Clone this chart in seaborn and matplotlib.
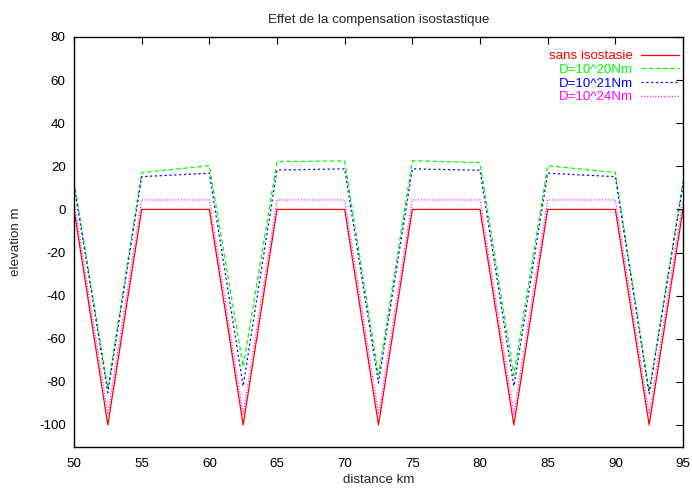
import numpy as np
import pandas as pd
import matplotlib
matplotlib.use('Agg')
import matplotlib.pyplot as plt
import seaborn as sns

# distance (km) and elevation (m)
distance = [50, 52.5, 55, 60, 62.5, 65, 70, 72.5, 75, 80, 82.5, 85, 90, 92.5, 95]
sans_isostasie = [0, -100, 0, 0, -100, 0, 0, -100, 0, 0, -100, 0, 0, -100, 0]
d_1e20 = [12.9, -83, 17.1, 20.3, -73, 22.2, 22.5, -77, 22.6, 21.7, -77, 20.3, 17.1, -84.5, 12.9]
d_1e21 = [11.4, -85, 15.2, 16.8, -82, 18.3, 18.8, -80.5, 18.8, 18.2, -82, 16.8, 15.2, -85.5, 11.4]
d_1e24 = [4.0, -95, 4.4, 4.4, -95, 4.4, 4.4, -95, 4.4, 4.4, -95, 4.4, 4.4, -95, 4.0]

labels = ['sans isostasie', 'D=10^20Nm', 'D=10^21Nm', 'D=10^24Nm']
colors = ['#ff0000', '#00ff00', '#0000ff', '#ff00ff']
styles = ['-', (0, (3.2, 2.0)), (0, (1.5, 2.0)), (0, (0.7, 1.3))]

x_ticks = np.arange(50, 96, 5)
y_ticks = np.arange(-100, 81, 20)

sns.set_style('white')
plt.rcParams['font.family'] = ['Liberation Sans', 'DejaVu Sans']
plt.rcParams['lines.scale_dashes'] = False
plt.rcParams['axes.unicode_minus'] = False
fs = 9.6

fig = plt.figure(figsize=(6.92, 4.91), dpi=100)
ax = fig.add_axes([74/692, 1-446.5/491, (683-74)/692, (446.5-37)/491])

series = [sans_isostasie, d_1e20, d_1e21, d_1e24]
for vals, lab, col, ls in zip(series, labels, colors, styles):
    sns.lineplot(x=distance, y=vals, ax=ax, color=col, linestyle=ls,
                 linewidth=0.9, label=lab, sort=False)

ax.set_xlim(50, 95)
ax.set_ylim(-110, 80)
ax.set_xticks(x_ticks)
ax.set_yticks(y_ticks)
ax.tick_params(direction='in', length=5, width=0.8, top=True, right=True,
               labelsize=fs, colors='black', pad=6)
ax.tick_params(axis='x', pad=8)
for s in ax.spines.values():
    s.set_visible(True)
    s.set_color('black')
    s.set_linewidth(1.0)

ax.set_title('Effet de la compensation isostastique', fontsize=fs, pad=10)
ax.set_xlabel('distance km', fontsize=fs, labelpad=3)
ax.set_ylabel('elevation m', fontsize=fs, labelpad=12)

leg = ax.legend(loc='upper right', bbox_to_anchor=(679/692, 1-50/491),
                bbox_transform=fig.transFigure, frameon=False,
                markerfirst=False, labelcolor='linecolor', fontsize=fs,
                handlelength=2.85, handletextpad=0.6, labelspacing=0.1,
                borderpad=0, borderaxespad=0)

fig.savefig('out.png', dpi=100, facecolor='white')
